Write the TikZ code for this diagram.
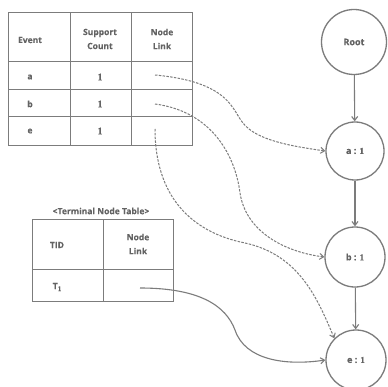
\documentclass[tikz,border=0pt]{standalone}
\usepackage{fontspec}
\setmainfont{Open Sans}[FakeBold=0.25]
\newfontfamily\numfont{Liberation Serif}[FakeBold=0.25]
\usetikzlibrary{arrows.meta}
\definecolor{linegray}{HTML}{7C7C7C}
\definecolor{textgray}{HTML}{636363}
\begin{document}
\begin{tikzpicture}[x=1pt,y=-1pt,
  grid/.style={draw=linegray,line width=1pt},
  lbl/.style={text=textgray,font=\fontsize{8.5}{11}\selectfont\bfseries,inner sep=0pt,align=center},
  num/.style={lbl,font=\fontsize{10}{11}\selectfont\numfont\bfseries},
  treenode/.style={circle,draw=linegray,line width=1.3pt,minimum size=#1,inner sep=0pt,text=textgray,font=\fontsize{9}{11}\selectfont\bfseries},
  treeedge/.style={draw=linegray,line width=1.1pt,-{Straight Barb[length=4pt,width=6pt]}},
  linkedge/.style={draw=linegray,line width=1pt,dashed,dash pattern=on 2.5pt off 1.3pt,-{Straight Barb[length=4pt,width=6pt]}},
  termedge/.style={draw=linegray,line width=1.1pt,-{Straight Barb[length=4pt,width=6pt]}}]
\clip (0,0) rectangle (387,387);
\fill[white] (0,0) rectangle (387,387);

% event table
\draw[grid] (8,13) rectangle (192,146);
\draw[grid] (70,13) -- (70,146) (131,13) -- (131,146);
\draw[grid] (8,62) -- (192,62) (8,90) -- (192,90) (8,117) -- (192,117);
\node[lbl] (hev) at (30,40) {Event};
\node[lbl] (hsc) at (100,39) {Support\\[3pt]Count};
\node[lbl] (hnl) at (162,39) {Node\\[3pt]Link};
\node[lbl] (ea) at (30,77) {a};
\node[lbl] (eb) at (30,104) {b};
\node[lbl] (ee) at (30,131) {e};
\node[num] (ca) at (100,77) {1};
\node[num] (cb) at (100,104) {1};
\node[num] (ce) at (100,131) {1};
\coordinate (la) at (155,75);
\coordinate (lb) at (155,104);
\coordinate (le) at (155,129);

% terminal node table
\node[lbl] (ttl) at (101,211) {<Terminal Node Table>};
\draw[grid] (32,219) rectangle (173,301);
\draw[grid] (103,219) -- (103,301);
\draw[grid] (32,269) -- (173,269);
\node[lbl] (htid) at (57,245) {TID};
\node[lbl] (htl) at (138,244) {Node\\[3pt]Link};
\node[lbl] (t1) at (57,287) {T{\numfont\fontsize{7}{8}\selectfont\raisebox{-2pt}{1}}};
\coordinate (lt) at (140,288);

% prefix tree
\node[treenode=65pt] (root) at (354,42) {Root};
\node[treenode=58pt] (na) at (355,151) {a : {\numfont 1}};
\node[treenode=60pt] (nb) at (355,257) {b : {\numfont 1}};
\node[treenode=60pt] (ne) at (356,360) {e : {\numfont 1}};
\draw[treeedge] (root) -- (na);
\draw[treeedge] (na) -- (nb);
\draw[treeedge] (nb) -- (ne);

% node links
\draw[linkedge] (la) .. controls (230,82) and (232,110) .. (243,123)
  .. controls (256,140) and (290,146) .. (na.west);
\draw[linkedge] (lb) .. controls (215,112) and (236,160) .. (240,193)
  .. controls (246,232) and (285,252) .. (nb.west);
\draw[linkedge] (le) .. controls (155,195) and (190,232) .. (245,243)
  .. controls (300,255) and (318,300) .. (ne.north west);
\draw[termedge] (lt) .. controls (200,288) and (226,306) .. (235,330)
  .. controls (245,360) and (285,366) .. (ne.west);
\end{tikzpicture}
\end{document}
